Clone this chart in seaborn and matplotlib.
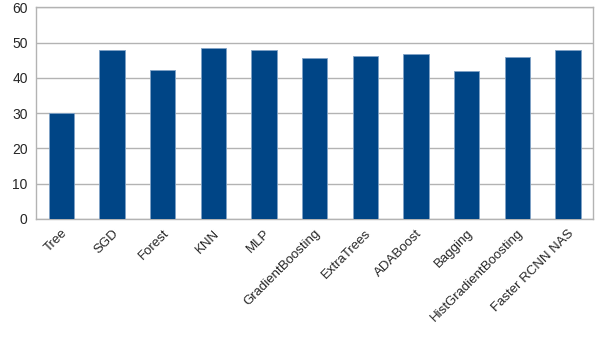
import numpy as np
import pandas as pd
import matplotlib
matplotlib.use("Agg")
import matplotlib.pyplot as plt
import seaborn as sns
from matplotlib.ticker import FixedLocator

# ================= 数据 =================
models = ["Tree", "SGD", "Forest", "KNN", "MLP", "GradientBoosting", "ExtraTrees",
          "ADABoost", "Bagging", "HistGradientBoosting", "Faster RCNN NAS"]
scores = [30.0, 48.0, 42.1, 48.4, 48.0, 45.5, 46.2, 46.8, 41.9, 46.0, 48.0]

df = pd.DataFrame({"model": models, "score": scores})

# ================= 样式 =================
sns.set_style("white")
plt.rcParams["font.family"] = ["Liberation Sans", "DejaVu Sans"]
grid_col = "#b3b3b3"

fig = plt.figure(figsize=(6.05, 3.4), dpi=100)
ax = fig.add_axes([0.0595, 0.356, 0.9212, 0.6225])

sns.barplot(data=df, x="model", y="score", color="#004586", width=0.5,
            edgecolor="#7fa2c6", linewidth=0.6, saturation=1, ax=ax, zorder=3)

ax.set_ylim(0, 60)
ax.set_yticks(range(0, 61, 10))
ax.set_xlim(-0.5, len(models) - 0.5)
ax.yaxis.grid(True, color=grid_col, linewidth=1, zorder=0)
ax.set_axisbelow(True)

for s in ax.spines.values():
    s.set_color(grid_col)
    s.set_linewidth(1)

# 类别刻度放在分界线上
ax.xaxis.set_minor_locator(FixedLocator(np.arange(-0.5, len(models), 1)))
ax.tick_params(axis="x", which="major", length=0, pad=6)
ax.tick_params(axis="x", which="minor", length=5, color=grid_col, width=1)
ax.tick_params(axis="y", length=4, color=grid_col, width=1, pad=2, labelsize=10)
ax.set_xticks(range(len(models)))
ax.set_xticklabels(models, rotation=45, ha="right", rotation_mode="anchor", fontsize=9.5)
ax.set_xlabel("")
ax.set_ylabel("")

plt.savefig("out.png", dpi=100)
